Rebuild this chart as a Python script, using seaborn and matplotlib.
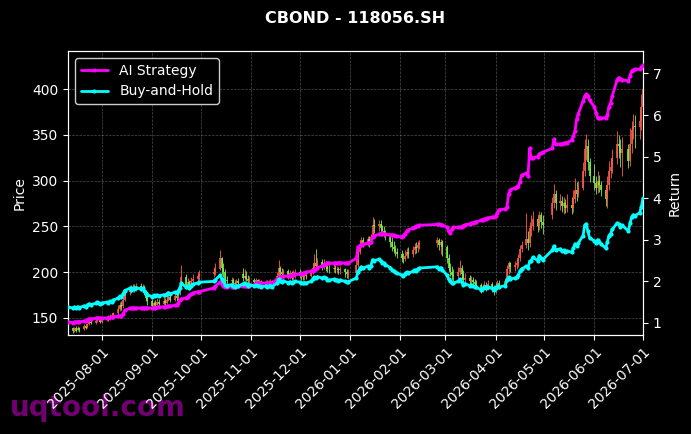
import pandas as pd
import matplotlib
matplotlib.use("Agg")
import matplotlib.pyplot as plt
import matplotlib.dates as mdates
import seaborn as sns

# ---------------- data ----------------
holidays = ["2025-10-01", "2025-10-02", "2025-10-03", "2025-10-06", "2025-10-07", "2025-10-08",
            "2026-01-01", "2026-01-02",
            "2026-02-16", "2026-02-17", "2026-02-18", "2026-02-19", "2026-02-20", "2026-02-23",
            "2026-04-06", "2026-05-01", "2026-05-04", "2026-05-05", "2026-06-19"]
start_date = "2025-07-11"
end_date = "2026-07-01"

open_px = [
    141, 139, 137, 139, 137, 139, 138, 141, 140, 143, 146, 144, 147, 150, 148,
    146, 148, 150, 149, 152, 151, 155, 160, 164, 163, 170, 178, 183, 180, 184, 181, 185, 182, 184, 178, 172,
    168, 163, 166, 164, 167, 165, 168, 166, 170, 173, 170, 174, 172, 177, 184, 195, 186, 189, 185, 190, 193, 196,
    198, 200, 204, 215, 205, 200, 192, 190, 192, 188, 187, 190, 198, 194, 196, 193, 190,
    192, 189, 191, 188, 190, 187, 189, 186, 188, 190, 187, 196, 205, 200, 198, 201, 197, 199, 196, 198,
    200, 198, 196, 195, 197, 196, 200, 205, 210, 207, 211, 208, 210, 207, 204, 203, 205, 203, 204, 202, 203, 200, 198,
    199, 208, 222, 230, 235, 232, 236, 233, 238, 252, 250, 253, 248, 245, 244, 240, 233, 228, 225, 222,
    220, 215, 214, 218, 222, 220, 224, 228, 226, 230, 232, 235, 230, 233,
    228, 215, 205, 200, 197, 196, 200, 205, 198, 192, 194, 190, 192, 189, 187, 186, 180, 183, 186, 184, 187, 183,
    179, 185, 188, 186, 190, 203, 210, 206, 208, 210, 215, 225, 230, 236, 232, 248, 250, 258, 250, 262, 255,
    262, 275, 285, 276, 278, 272, 275, 270, 273, 270, 280, 290, 285, 292, 310, 335, 338, 320,
    305, 297, 292, 300, 295, 290, 280, 295, 310, 315, 325, 340, 338, 330, 335, 321, 340, 355, 360, 358, 365,
    380]
close_px = [
    138, 136, 138, 136, 139, 137, 141, 139, 143, 146, 144, 147, 150, 148, 146,
    148, 150, 149, 152, 151, 155, 160, 164, 162, 170, 178, 183, 180, 184, 181, 185, 182, 184, 178, 172, 168,
    163, 166, 164, 167, 165, 168, 166, 170, 173, 170, 174, 172, 177, 184, 195, 186, 189, 185, 190, 193, 196, 198,
    200, 204, 215, 205, 200, 192, 190, 192, 188, 187, 190, 188, 194, 196, 193, 190, 192,
    189, 191, 188, 190, 187, 189, 186, 188, 190, 187, 196, 205, 200, 198, 201, 197, 199, 196, 198, 200,
    198, 196, 195, 197, 196, 200, 205, 210, 207, 211, 208, 210, 207, 204, 203, 205, 203, 204, 202, 203, 200, 198, 199,
    208, 222, 230, 235, 232, 236, 233, 238, 252, 250, 253, 248, 245, 244, 240, 233, 228, 225, 222, 220,
    215, 214, 218, 222, 220, 224, 228, 226, 230, 232, 235, 230, 233, 228,
    215, 205, 200, 197, 196, 200, 205, 198, 192, 194, 190, 192, 189, 187, 186, 180, 183, 186, 184, 187, 183, 179,
    185, 188, 186, 190, 203, 210, 206, 208, 210, 215, 225, 230, 236, 232, 248, 250, 258, 250, 262, 255, 252,
    275, 285, 276, 278, 272, 275, 270, 273, 270, 280, 290, 285, 292, 310, 335, 338, 320, 305,
    297, 292, 300, 295, 290, 280, 295, 310, 315, 325, 340, 338, 330, 335, 321, 340, 355, 360, 358, 365, 380,
    400]
high_px = [
    143, 140, 140, 141, 141, 140, 143, 143, 145, 148, 148, 149, 152, 152, 150,
    150, 152, 153, 154, 155, 157, 164, 167, 168, 174, 181, 186, 186, 187, 187, 188, 188, 187, 186, 180, 175,
    171, 169, 170, 172, 171, 173, 172, 175, 178, 176, 179, 178, 181, 190, 208, 198, 194, 192, 195, 198, 200, 202,
    206, 210, 224, 217, 210, 203, 196, 195, 194, 192, 193, 194, 205, 203, 201, 197, 196,
    194, 194, 193, 193, 192, 192, 191, 192, 193, 192, 200, 213, 207, 205, 204, 203, 202, 201, 202, 203,
    203, 201, 199, 200, 201, 204, 210, 220, 225, 215, 214, 214, 212, 210, 208, 209, 208, 207, 206, 207, 205, 203, 204,
    216, 226, 234, 238, 238, 240, 239, 242, 260, 258, 257, 257, 252, 250, 246, 242, 238, 234, 230, 226,
    224, 221, 224, 226, 227, 229, 232, 233, 234, 235, 238, 237, 236, 235,
    230, 220, 210, 207, 203, 206, 213, 208, 202, 199, 197, 196, 195, 193, 191, 188, 187, 190, 189, 191, 189, 186,
    189, 191, 191, 194, 208, 212, 211, 212, 214, 220, 230, 234, 265, 245, 255, 262, 267, 262, 267, 266, 262,
    282, 296, 290, 285, 283, 282, 280, 285, 282, 290, 303, 298, 300, 320, 345, 351, 345, 325,
    318, 305, 310, 306, 300, 295, 305, 321, 325, 335, 354, 350, 345, 348, 340, 357, 365, 373, 372, 378, 395,
    410]
low_px = [
    136, 134, 135, 135, 136, 135, 137, 138, 139, 142, 143, 143, 146, 147, 145,
    144, 147, 147, 148, 149, 150, 153, 158, 159, 161, 168, 175, 177, 178, 178, 179, 179, 178, 175, 169, 164,
    160, 160, 161, 162, 162, 163, 163, 165, 168, 167, 168, 169, 170, 175, 182, 182, 183, 181, 183, 187, 190, 192,
    195, 197, 202, 198, 195, 188, 186, 185, 184, 183, 184, 185, 190, 191, 190, 187, 187,
    185, 186, 185, 185, 184, 184, 183, 184, 185, 184, 186, 194, 195, 194, 195, 193, 193, 192, 192, 194,
    194, 192, 191, 192, 193, 195, 198, 203, 204, 203, 202, 204, 201, 200, 199, 200, 199, 199, 198, 198, 195, 194, 193,
    196, 206, 220, 227, 228, 229, 228, 231, 236, 243, 245, 243, 240, 238, 235, 228, 223, 221, 218, 215,
    211, 210, 212, 215, 216, 217, 220, 221, 222, 225, 228, 224, 220, 218,
    210, 202, 196, 192, 190, 192, 197, 193, 188, 188, 186, 185, 185, 183, 182, 177, 178, 180, 179, 180, 178, 175,
    177, 183, 182, 184, 189, 198, 200, 201, 203, 206, 212, 222, 226, 224, 228, 240, 246, 244, 246, 248, 242,
    258, 270, 268, 268, 266, 264, 265, 266, 264, 266, 276, 278, 282, 290, 305, 322, 312, 298,
    290, 285, 286, 288, 283, 272, 270, 290, 303, 308, 318, 325, 315, 305, 314, 316, 330, 345, 336, 345, 355,
    370]
ai_return = [
    1.02, 1.01, 1.02, 1.03, 1.03, 1.03, 1.04, 1.05, 1.08, 1.10, 1.10, 1.11, 1.12, 1.12, 1.11,
    1.11, 1.12, 1.12, 1.14, 1.15, 1.15, 1.16, 1.17, 1.17, 1.22, 1.30, 1.35, 1.35, 1.36, 1.36, 1.36, 1.36, 1.36, 1.36, 1.36, 1.36,
    1.36, 1.37, 1.37, 1.38, 1.38, 1.39, 1.39, 1.40, 1.41, 1.41, 1.42, 1.43, 1.47, 1.55, 1.58, 1.60, 1.63, 1.66, 1.69, 1.72, 1.75, 1.75,
    1.84, 1.88, 1.99, 1.93, 1.89, 1.87, 1.87, 1.87, 1.87, 1.87, 1.88, 1.88, 1.88, 1.89, 1.89, 1.89, 1.90,
    1.92, 1.95, 1.96, 1.96, 1.96, 1.96, 1.95, 1.96, 1.96, 1.96, 2.05, 2.08, 2.10, 2.11, 2.12, 2.13, 2.14, 2.15, 2.16, 2.17,
    2.17, 2.18, 2.19, 2.21, 2.22, 2.24, 2.26, 2.28, 2.30, 2.33, 2.37, 2.40, 2.42, 2.44, 2.44, 2.44, 2.44, 2.44, 2.45, 2.45, 2.44, 2.44, 2.44,
    2.55, 2.83, 2.86, 2.88, 2.89, 2.92, 2.92, 2.95, 3.07, 3.10, 3.13, 3.15, 3.16, 3.14, 3.13, 3.12, 3.12, 3.11, 3.10, 3.08,
    3.07, 3.10, 3.15, 3.20, 3.24, 3.28, 3.31, 3.32, 3.34, 3.35, 3.37, 3.37, 3.36, 3.36,
    3.30, 3.20, 3.16, 3.25, 3.30, 3.30, 3.30, 3.31, 3.34, 3.36, 3.38, 3.40, 3.41, 3.42, 3.43, 3.47, 3.48, 3.50, 3.51, 3.53, 3.54, 3.55,
    3.56, 3.65, 3.72, 3.74, 3.78, 4.10, 4.20, 4.25, 4.27, 4.30, 4.40, 4.55, 4.60, 4.53, 5.20, 4.97, 4.97, 5.00, 5.06, 5.08, 5.10,
    5.20, 5.42, 5.30, 5.30, 5.31, 5.32, 5.33, 5.33, 5.40, 5.50, 5.61, 5.90, 6.02, 6.34, 6.45, 6.50, 6.45, 6.35,
    6.20, 6.05, 5.93, 5.93, 5.93, 5.93, 6.00, 6.20, 6.30, 6.45, 6.85, 6.90, 6.87, 6.85, 6.82, 6.95, 7.06, 7.08, 7.10, 7.10, 7.15,
    7.20]
bh_return = [
    1.38, 1.36, 1.38, 1.36, 1.39, 1.37, 1.41, 1.39, 1.43, 1.46, 1.44, 1.47, 1.50, 1.48, 1.46,
    1.48, 1.50, 1.49, 1.52, 1.51, 1.55, 1.60, 1.64, 1.62, 1.70, 1.78, 1.83, 1.80, 1.84, 1.81, 1.85, 1.82, 1.84, 1.78, 1.72, 1.68,
    1.63, 1.66, 1.64, 1.67, 1.65, 1.68, 1.66, 1.70, 1.73, 1.70, 1.74, 1.72, 1.77, 1.84, 1.95, 1.86, 1.89, 1.85, 1.90, 1.93, 1.96, 1.98,
    2.00, 2.04, 2.15, 2.05, 2.00, 1.92, 1.90, 1.92, 1.88, 1.87, 1.90, 1.88, 1.94, 1.96, 1.93, 1.90, 1.92,
    1.89, 1.91, 1.88, 1.90, 1.87, 1.89, 1.86, 1.88, 1.90, 1.87, 1.96, 2.05, 2.00, 1.98, 2.01, 1.97, 1.99, 1.96, 1.98, 2.00,
    1.98, 1.96, 1.95, 1.97, 1.96, 2.00, 2.05, 2.10, 2.07, 2.11, 2.08, 2.10, 2.07, 2.04, 2.03, 2.05, 2.03, 2.04, 2.02, 2.03, 2.00, 1.98, 1.99,
    2.08, 2.22, 2.30, 2.35, 2.32, 2.36, 2.33, 2.38, 2.52, 2.50, 2.53, 2.48, 2.45, 2.44, 2.40, 2.33, 2.28, 2.25, 2.22, 2.20,
    2.15, 2.14, 2.18, 2.22, 2.20, 2.24, 2.28, 2.26, 2.30, 2.32, 2.35, 2.30, 2.33, 2.28,
    2.15, 2.05, 2.00, 1.97, 1.96, 2.00, 2.05, 1.98, 1.92, 1.94, 1.90, 1.92, 1.89, 1.87, 1.86, 1.80, 1.83, 1.86, 1.84, 1.87, 1.83, 1.79,
    1.85, 1.88, 1.86, 1.90, 2.03, 2.10, 2.06, 2.08, 2.10, 2.15, 2.25, 2.30, 2.36, 2.32, 2.48, 2.50, 2.58, 2.50, 2.62, 2.55, 2.52,
    2.75, 2.85, 2.76, 2.78, 2.72, 2.75, 2.70, 2.73, 2.70, 2.80, 2.90, 2.85, 2.92, 3.10, 3.35, 3.38, 3.20, 3.05,
    2.97, 2.92, 3.00, 2.95, 2.90, 2.80, 2.95, 3.10, 3.15, 3.25, 3.40, 3.38, 3.30, 3.35, 3.21, 3.40, 3.55, 3.60, 3.58, 3.65, 3.80,
    4.00]
price_ticks = [150, 200, 250, 300, 350, 400]
return_ticks = [1, 2, 3, 4, 5, 6, 7]
title = "CBOND - 118056.SH"

# ---------------- frame ----------------
hol = set(pd.to_datetime(holidays))
dates = [d for d in pd.bdate_range(start_date, end_date) if d not in hol]
n = len(dates)
assert n == len(open_px) == len(close_px) == len(high_px) == len(low_px) == len(ai_return) == len(bh_return)

df = pd.DataFrame({"date": dates, "open": open_px, "close": close_px, "high": high_px,
                   "low": low_px, "AI Strategy": ai_return, "Buy-and-Hold": bh_return})

sns.set_style("dark")
plt.rcParams.update({
    "font.family": ["DejaVu Sans"],
    "text.color": "white",
    "axes.labelcolor": "white",
    "xtick.color": "white",
    "ytick.color": "white",
    "axes.edgecolor": "white",
})

fig = plt.figure(figsize=(6.91, 4.34), dpi=100, facecolor="black")
ax = fig.add_axes([68 / 691, 1 - 335 / 434, (643 - 68) / 691, (335 - 51) / 434])
ax.set_facecolor("black")

up = df["close"] >= df["open"]
red = "#ff5a4a"
green = "#7cf04a"
colors = [red if u else green for u in up]
ax.vlines(df["date"], df["low"], df["high"], colors=colors, linewidth=0.6, zorder=2)
ax.vlines(df["date"], df[["open", "close"]].min(axis=1), df[["open", "close"]].max(axis=1),
          colors=colors, linewidth=1.2, zorder=3)

ax.set_ylim(131.4, 441.5)
ax.set_yticks(price_ticks)
ax.set_xlim(pd.Timestamp("2025-07-11"), pd.Timestamp("2026-07-01"))
ax.xaxis.set_major_locator(mdates.MonthLocator(bymonthday=1))
ax.xaxis.set_major_formatter(mdates.DateFormatter("%Y-%m-%d"))
ax.grid(True, color="gray", linestyle="--", linewidth=0.5, alpha=0.6)
ax.tick_params(axis="both", colors="white", labelsize=10, length=3.5, width=0.8,
               bottom=True, left=True)
for lab in ax.get_xticklabels():
    lab.set_rotation(45)
    lab.set_ha("right")
    lab.set_rotation_mode("anchor")
ax.set_ylabel("Price", color="white", fontsize=10)
for s in ax.spines.values():
    s.set_color("white")

ax2 = ax.twinx()
ax2.patch.set_visible(False)
sns.lineplot(data=df, x="date", y="AI Strategy", ax=ax2, color="#ff00ff", linewidth=2,
             marker="o", markersize=3, markeredgewidth=0, label="AI Strategy", zorder=5)
sns.lineplot(data=df, x="date", y="Buy-and-Hold", ax=ax2, color="#00ffff", linewidth=2,
             marker="o", markersize=3, markeredgewidth=0, label="Buy-and-Hold", zorder=5)
ax2.set_ylim(0.71, 7.54)
ax2.set_yticks(return_ticks)
ax2.set_ylabel("Return", color="white", fontsize=10)
ax2.set_xlabel("")
ax.set_xlabel("")
ax2.grid(False)
ax2.tick_params(axis="y", colors="white", labelsize=10, length=3.5, width=0.8, right=True)
for s in ax2.spines.values():
    s.set_color("white")

leg = ax2.legend(loc="upper left", facecolor="black", edgecolor="#cccccc", fontsize=10,
                 framealpha=1.0)
for t in leg.get_texts():
    t.set_color("white")

ax.set_title(title, color="white", fontsize=11.5, fontweight="bold", pad=20)

fig.text(0.014, 0.041, "uqtool.com", fontsize=20, fontweight="bold", color="#800080",
         alpha=0.9, va="baseline", ha="left", zorder=-1)

fig.savefig("out.png", dpi=100, facecolor="black")
